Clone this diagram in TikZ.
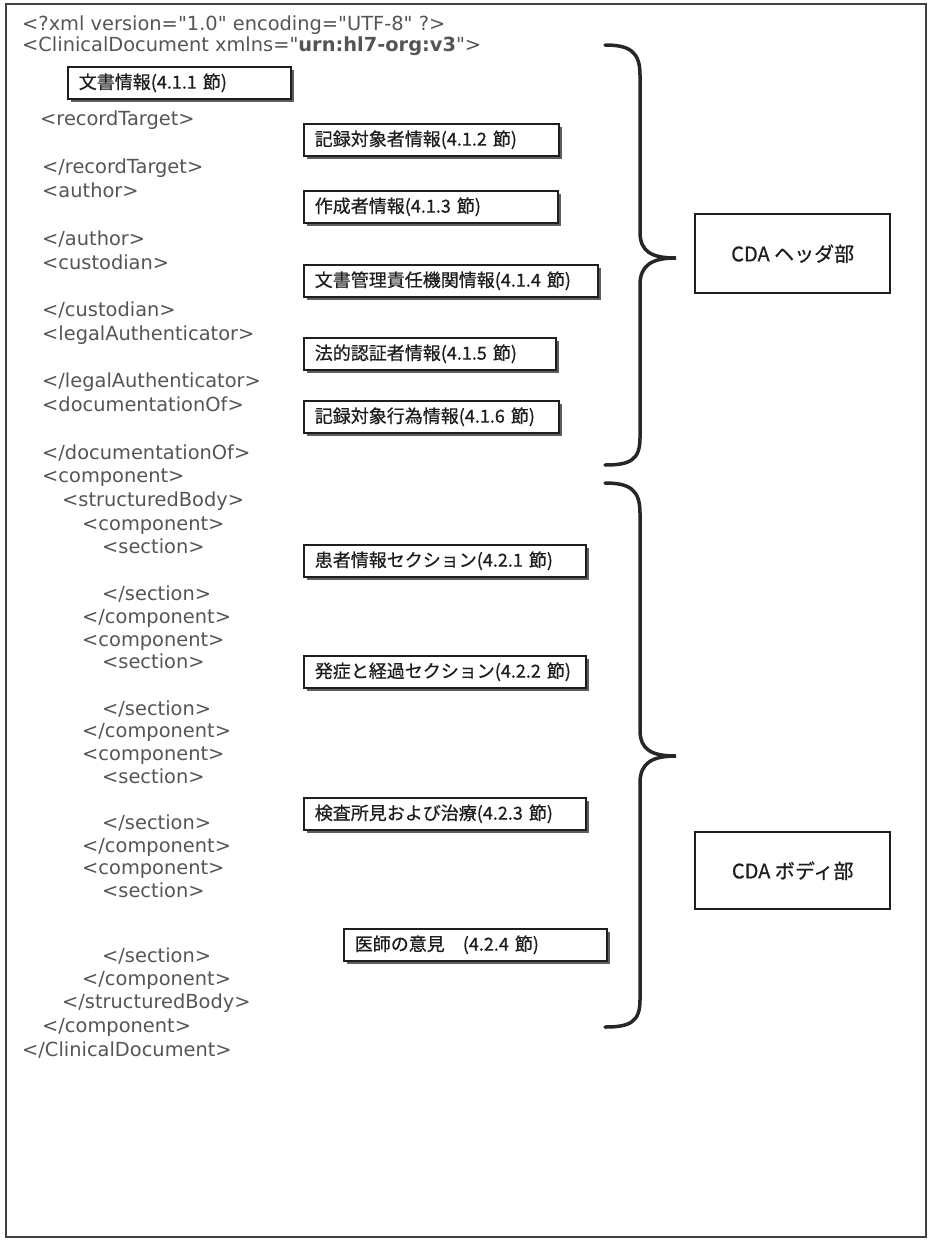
\documentclass[tikz,border=0pt]{standalone}
\usepackage{fontspec}
\setmainfont{DejaVu Sans}[Ligatures=TeXOff]
\newfontfamily\jpfont{Noto Sans CJK JP}[FakeBold=0.7]
\usetikzlibrary{shadows}
\definecolor{xmlgray}{HTML}{555555}
\definecolor{inkdark}{HTML}{1E1E1E}

\begin{document}
\begin{tikzpicture}[x=1pt, y=-1pt,
  xml/.style={anchor=base west, inner sep=0pt, text=xmlgray, font=\fontsize{19.4}{22}\selectfont},
  secbox/.style={anchor=north west, draw=inkdark, line width=1.6pt, fill=white, text=inkdark,
    drop shadow={shadow xshift=3pt, shadow yshift=-3pt, fill=black!70, opacity=.9},
    minimum height=32pt, inner xsep=11pt, inner ysep=0pt, text width=#1, align=left,
    font=\jpfont\fontsize{18}{20}\selectfont},
  partbox/.style={anchor=north west, draw=inkdark, line width=2.4pt, minimum width=195pt,
    text=inkdark, font=\jpfont\fontsize{20}{22}\selectfont},
  brace/.style={draw=black!85, line width=3.5pt, line cap=round}]
\useasboundingbox (0,0) rectangle (930,1240);
\draw[line width=2.2pt, draw=black!75] (6,4) rectangle (926,1237);

% XML source
\node[xml] (x01) at (22,30) {<?xml version="1.0" encoding="UTF-8" ?>};
\node[xml] (x02) at (22,51) {<ClinicalDocument xmlns="\textbf{urn:hl7-org:v3}">};
\node[xml] (x03) at (40,125) {<recordTarget>};
\node[xml] (x04) at (42,173) {</recordTarget>};
\node[xml] (x05) at (42,197) {<author>};
\node[xml] (x06) at (42,245) {</author>};
\node[xml] (x07) at (42,269) {<custodian>};
\node[xml] (x08) at (42,316) {</custodian>};
\node[xml] (x09) at (42,340) {<legalAuthenticator>};
\node[xml] (x10) at (42,387) {</legalAuthenticator>};
\node[xml] (x11) at (42,411) {<documentationOf>};
\node[xml] (x12) at (42,459) {</documentationOf>};
\node[xml] (x13) at (42,482) {<component>};
\node[xml] (x14) at (62,506) {<structuredBody>};
\node[xml] (x15) at (82,530) {<component>};
\node[xml] (x16) at (102,553) {<section>};
\node[xml] (x17) at (102,600) {</section>};
\node[xml] (x18) at (82,623) {</component>};
\node[xml] (x19) at (82,646) {<component>};
\node[xml] (x20) at (102,668) {<section>};
\node[xml] (x21) at (102,715) {</section>};
\node[xml] (x22) at (82,737) {</component>};
\node[xml] (x23) at (82,760) {<component>};
\node[xml] (x24) at (102,783) {<section>};
\node[xml] (x25) at (102,829) {</section>};
\node[xml] (x26) at (82,852) {</component>};
\node[xml] (x27) at (82,874) {<component>};
\node[xml] (x28) at (102,897) {<section>};
\node[xml] (x29) at (102,962) {</section>};
\node[xml] (x30) at (82,985) {</component>};
\node[xml] (x31) at (62,1008) {</structuredBody>};
\node[xml] (x32) at (42,1032) {</component>};
\node[xml] (x33) at (22,1056) {</ClinicalDocument>};

% section boxes
\node[secbox=201pt] (s411) at (67,66) {文書情報(4.1.1 節)};
\node[secbox=233pt] (s412) at (303,123) {記録対象者情報(4.1.2 節)};
\node[secbox=232pt] (s413) at (303,190) {作成者情報(4.1.3 節)};
\node[secbox=272pt] (s414) at (303,264) {文書管理責任機関情報(4.1.4 節)};
\node[secbox=230pt] (s415) at (303,337) {法的認証者情報(4.1.5 節)};
\node[secbox=233pt] (s416) at (303,400) {記録対象行為情報(4.1.6 節)};
\node[secbox=260pt] (s421) at (303,544) {患者情報セクション(4.2.1 節)};
\node[secbox=260pt] (s422) at (303,655) {発症と経過セクション(4.2.2 節)};
\node[secbox=260pt] (s423) at (303,797) {検査所見および治療(4.2.3 節)};
\node[secbox=241pt] (s424) at (343,928) {医師の意見　(4.2.4 節)};

% braces
\draw[brace] (605,45) .. controls (630,45) and (640,52) .. (640,75) -- (640,232)
  .. controls (640,252) and (652,258) .. (676,258)
  .. controls (652,258) and (640,265) .. (640,285) -- (640,438)
  .. controls (640,460) and (630,465) .. (605,465);
\draw[brace] (605,483) .. controls (630,483) and (640,490) .. (640,513) -- (640,730)
  .. controls (640,750) and (652,756) .. (676,756)
  .. controls (652,756) and (640,763) .. (640,783) -- (640,1000)
  .. controls (640,1022) and (630,1027) .. (605,1027);

\node[partbox, minimum height=79pt] (hdr) at (694,213) {CDA ヘッダ部};
\node[partbox, minimum height=77pt] (bdy) at (694,831) {CDA ボディ部};
\end{tikzpicture}
\end{document}
